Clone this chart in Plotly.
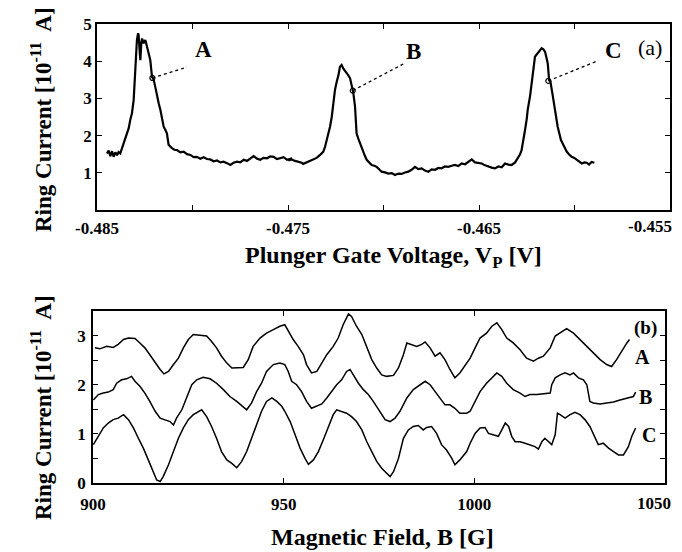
import plotly.graph_objects as go

# ---------------- Panel (a): ring current vs plunger gate voltage ----------------
vp = [-0.48448, -0.48439, -0.48430, -0.48421, -0.48413, -0.48404, -0.48395, -0.48387, -0.48378,
      -0.48369, -0.48360, -0.48352, -0.48343, -0.48334, -0.48326, -0.48317, -0.48308, -0.48303,
      -0.48299, -0.48294, -0.48291, -0.48285, -0.48282, -0.48277, -0.48273, -0.48268, -0.48264,
      -0.48256, -0.48247, -0.48238, -0.48230, -0.48221, -0.48212, -0.48203, -0.48195, -0.48186,
      -0.48177, -0.48168, -0.48160, -0.48151, -0.48142, -0.48134, -0.48125, -0.48116, -0.48107,
      -0.48095, -0.48081, -0.48064, -0.48046, -0.48029, -0.48011, -0.47994, -0.47977, -0.47959,
      -0.47942, -0.47924, -0.47907, -0.47889, -0.47872, -0.47854, -0.47837, -0.47819, -0.47802,
      -0.47785, -0.47767, -0.47750, -0.47732, -0.47715, -0.47697, -0.47680, -0.47662, -0.47645,
      -0.47628, -0.47610, -0.47593, -0.47575, -0.47558, -0.47540, -0.47523, -0.47505, -0.47479,
      -0.47498, -0.47481, -0.47463, -0.47446, -0.47428, -0.47420, -0.47402, -0.47385, -0.47367,
      -0.47350, -0.47332, -0.47315, -0.47306, -0.47297, -0.47289, -0.47280, -0.47271, -0.47263,
      -0.47254, -0.47245, -0.47236, -0.47228, -0.47219, -0.47210, -0.47202, -0.47193, -0.47184,
      -0.47175, -0.47167, -0.47158, -0.47149, -0.47141, -0.47132, -0.47123, -0.47115, -0.47106,
      -0.47097, -0.47088, -0.47076, -0.47062, -0.47048, -0.47036, -0.47024, -0.47010, -0.46992,
      -0.46975, -0.46957, -0.46940, -0.46922, -0.46905, -0.46888, -0.46870, -0.46853, -0.46835,
      -0.46818, -0.46800, -0.46783, -0.46765, -0.46748, -0.46730, -0.46713, -0.46696, -0.46678,
      -0.46661, -0.46643, -0.46626, -0.46608, -0.46591, -0.46573, -0.46556, -0.46538, -0.46521,
      -0.46503, -0.46486, -0.46468, -0.46451, -0.46434, -0.46416, -0.46399, -0.46381, -0.46364,
      -0.46346, -0.46329, -0.46311, -0.46303, -0.46294, -0.46285, -0.46277, -0.46268, -0.46259,
      -0.46250, -0.46245, -0.46233, -0.46224, -0.46215, -0.46207, -0.46198, -0.46189, -0.46181,
      -0.46172, -0.46163, -0.46154, -0.46147, -0.46140, -0.46133, -0.46126, -0.46116, -0.46109,
      -0.46102, -0.46095, -0.46088, -0.46079, -0.46071, -0.46058, -0.46050, -0.46041, -0.46029,
      -0.46015, -0.46001, -0.45989, -0.45976, -0.45962, -0.45948, -0.45936, -0.45924, -0.45910,
      -0.45896]
ring_a = [1.52, 1.60, 1.45, 1.58, 1.43, 1.55, 1.47, 1.56, 1.52,
          1.66, 1.79, 1.88, 2.06, 2.20, 2.42, 2.60, 2.96, 3.40,
          3.76, 4.20, 4.57, 4.75, 4.70, 4.30, 4.03, 4.50, 4.61,
          4.48, 4.57, 4.39, 4.21, 4.03, 3.58, 3.50, 3.31, 3.05,
          2.87, 2.69, 2.42, 2.24, 2.15, 2.06, 1.75, 1.70, 1.66,
          1.62, 1.61, 1.55, 1.57, 1.50, 1.48, 1.42, 1.43, 1.38,
          1.42, 1.37, 1.36, 1.31, 1.33, 1.28, 1.30, 1.26, 1.21,
          1.27, 1.30, 1.28, 1.35, 1.32, 1.39, 1.45, 1.38, 1.35,
          1.40, 1.39, 1.44, 1.43, 1.37, 1.39, 1.42, 1.35, 1.39,
          1.33, 1.36, 1.32, 1.30, 1.27, 1.24, 1.28, 1.31, 1.36,
          1.40, 1.48, 1.57, 1.70, 1.88, 2.05, 2.24, 2.50, 2.87,
          3.23, 3.45, 3.62, 3.85, 3.90, 3.80, 3.75, 3.67, 3.62,
          3.54, 3.38, 3.15, 2.78, 2.06, 1.92, 1.79, 1.65, 1.52,
          1.45, 1.35, 1.28, 1.21, 1.19, 1.16, 1.10, 1.03, 1.01,
          0.98, 0.99, 0.94, 0.98, 0.97, 1.01, 1.03, 1.08, 1.16,
          1.10, 1.12, 1.06, 1.03, 1.09, 1.08, 1.13, 1.12, 1.17,
          1.16, 1.19, 1.21, 1.18, 1.25, 1.23, 1.30, 1.36, 1.28,
          1.27, 1.25, 1.20, 1.16, 1.14, 1.12, 1.17, 1.15, 1.25,
          1.22, 1.21, 1.28, 1.35, 1.42, 1.50, 1.61, 1.85, 2.15,
          2.45, 2.69, 3.05, 3.45, 3.76, 4.12, 4.18, 4.25, 4.30,
          4.35, 4.32, 4.25, 4.10, 3.94, 3.50, 3.45, 3.14, 2.90,
          2.60, 2.42, 2.24, 2.05, 1.88, 1.75, 1.65, 1.57, 1.50,
          1.43, 1.40, 1.35, 1.32, 1.25, 1.28, 1.27, 1.22, 1.29,
          1.27]

# points A, B, C on the peaks, leader line ends and label positions
pt_names = ["A", "B", "C"]
pt_vp = [-0.48210, -0.47161, -0.46137]
pt_i = [3.55, 3.21, 3.47]
lead_vp = [-0.48029, -0.46887, -0.45884]
lead_i = [3.84, 3.95, 4.00]
lab_vp = [-0.47945, -0.46845, -0.45798]
lab_i = [4.32, 4.26, 4.30]

xa_ticks = [-0.485, -0.475, -0.465]
xa_text = ["-0.485", "-0.475", "-0.465"]
xa_last_val = -0.455
xa_last_text = "-0.455"
ya_ticks = [1, 2, 3, 4, 5]
ya_text = ["1", "2", "3", "4", "5"]

# ---------------- Panel (b): ring current vs magnetic field ----------------
field_a = [900.5, 901.8, 903.6, 905.3, 906.6, 908.0, 909.3, 911.0, 912.3, 913.6, 914.9, 916.3,
           917.6, 918.6, 919.8, 921.1, 922.4, 923.7, 925.0, 926.3, 928.1, 929.8, 931.1, 932.4,
           933.7, 935.1, 936.4, 937.7, 939.4, 940.7, 942.0, 943.8, 945.5, 947.3, 949.0, 950.3,
           951.2, 952.5, 953.8, 955.2, 956.0, 957.3, 958.7, 960.0, 961.3, 963.0, 964.3, 965.6,
           967.0, 967.8, 969.1, 970.5, 971.8, 973.1, 974.4, 975.7, 977.0, 978.8, 980.1, 981.4,
           982.3, 983.6, 984.9, 986.2, 987.1, 988.4, 989.7, 991.0, 992.3, 993.6, 994.9, 996.2,
           998.0, 998.9, 1000.2, 1001.5, 1003.2, 1004.6, 1005.9, 1007.2, 1008.5, 1010.2, 1012.0,
           1013.7, 1015.5, 1016.8, 1018.1, 1019.9, 1021.2, 1022.5, 1024.2, 1026.0, 1027.7,
           1029.5, 1031.2, 1033.0, 1034.7, 1036.0, 1037.3, 1038.6, 1040.0, 1040.7]
curve_a = [2.75, 2.73, 2.78, 2.76, 2.82, 2.92, 2.95, 2.94, 2.85, 2.75, 2.61, 2.44,
           2.31, 2.22, 2.27, 2.41, 2.54, 2.75, 2.92, 3.02, 3.01, 2.99, 2.88, 2.75,
           2.58, 2.44, 2.34, 2.34, 2.35, 2.51, 2.78, 2.95, 3.05, 3.12, 3.19, 3.22,
           3.09, 2.92, 2.78, 2.61, 2.41, 2.24, 2.27, 2.44, 2.61, 2.78, 2.95, 3.22,
           3.44, 3.39, 3.19, 3.02, 2.75, 2.51, 2.34, 2.20, 2.17, 2.19, 2.34, 2.61,
           2.85, 2.82, 2.78, 2.82, 2.87, 2.75, 2.58, 2.65, 2.51, 2.31, 2.14, 2.24,
           2.44, 2.54, 2.75, 2.95, 3.05, 3.19, 3.26, 3.12, 2.95, 2.85, 2.71,
           2.54, 2.48, 2.54, 2.58, 2.75, 2.99, 3.05, 3.14, 3.05, 2.92,
           2.78, 2.65, 2.51, 2.41, 2.37, 2.51, 2.68, 2.85, 2.92]

field_b = [900.1, 901.4, 902.7, 904.0, 905.3, 906.2, 907.5, 908.8, 910.1, 911.0, 912.3, 913.6,
           914.9, 916.3, 917.6, 918.9, 920.2, 921.1, 921.9, 923.3, 924.6, 925.9, 927.2, 928.9,
           930.7, 932.4, 934.2, 935.9, 937.7, 939.4, 940.3, 941.6, 942.9, 944.2, 945.5, 947.3,
           949.0, 950.3, 951.2, 952.1, 953.4, 954.7, 956.0, 957.3, 958.7, 960.0, 961.3, 962.6,
           963.9, 965.2, 966.5, 967.4, 968.3, 969.6, 970.9, 972.2, 973.5, 975.3, 976.6, 977.9,
           979.2, 980.5, 982.3, 984.0, 985.8, 987.1, 988.4, 989.7, 991.0, 992.3, 993.6, 994.9,
           996.2, 998.0, 998.9, 1000.2, 1001.5, 1003.2, 1004.6, 1005.9, 1007.2, 1008.5, 1010.2,
           1012.0, 1013.3, 1014.6, 1016.4, 1018.1, 1019.9, 1020.3, 1021.2, 1022.5, 1023.8,
           1025.1, 1026.0, 1027.3, 1028.6, 1029.5, 1030.3, 1031.2, 1033.0, 1034.7, 1036.5,
           1038.2, 1040.0, 1041.7, 1042.3]
curve_b = [1.69, 1.80, 1.83, 1.85, 1.90, 2.03, 2.10, 2.12, 2.17, 2.07, 1.97, 1.83,
           1.66, 1.46, 1.32, 1.29, 1.25, 1.18, 1.32, 1.49, 1.73, 2.00, 2.10, 2.15,
           2.12, 2.03, 1.90, 1.76, 1.66, 1.56, 1.49, 1.63, 1.86, 2.03, 2.27, 2.41,
           2.44, 2.41, 2.27, 2.07, 2.00, 1.86, 1.66, 1.52, 1.56, 1.61, 1.73, 1.86,
           2.00, 2.10, 2.27, 2.31, 2.20, 2.03, 1.90, 1.80, 1.66, 1.46, 1.29, 1.25,
           1.32, 1.46, 1.73, 1.90, 2.00, 2.07, 2.00, 1.86, 1.73, 1.59, 1.59, 1.52,
           1.42, 1.42, 1.46, 1.66, 1.86, 2.03, 2.14, 2.24, 2.17, 2.03, 1.90,
           1.83, 1.76, 1.80, 1.80, 1.81, 1.83, 2.00, 2.14, 2.20, 2.24,
           2.20, 2.24, 2.14, 2.10, 2.00, 1.66, 1.63, 1.61, 1.63, 1.65,
           1.69, 1.73, 1.76, 1.85]

field_c = [900.1, 901.4, 902.7, 904.0, 905.3, 906.6, 908.0, 909.3, 910.6, 911.9, 913.2, 914.5,
           915.8, 916.7, 917.6, 918.4, 919.8, 921.1, 922.4, 923.7, 925.0, 926.3, 927.6, 928.5,
           929.8, 931.1, 932.4, 933.7, 935.1, 936.4, 937.7, 939.0, 940.3, 941.6, 942.9, 944.2,
           945.5, 946.9, 948.2, 949.5, 950.3, 951.7, 953.0, 954.3, 955.6, 956.5, 957.8, 959.1,
           960.4, 961.7, 963.0, 963.9, 965.2, 966.5, 967.8, 969.1, 970.5, 971.8, 973.1, 974.4,
           975.7, 977.0, 977.9, 978.8, 980.1, 981.4, 982.7, 984.0, 985.3, 986.6, 987.5, 988.8,
           990.1, 991.4, 992.7, 994.1, 994.9, 996.2, 998.0, 998.9, 1000.2, 1001.5, 1002.8,
           1003.7, 1005.0, 1006.3, 1007.2, 1008.1, 1009.0, 1009.8, 1010.7, 1012.0, 1013.3,
           1014.6, 1015.9, 1016.8, 1017.7, 1018.5, 1019.4, 1020.3, 1021.2, 1021.8, 1022.5,
           1023.8, 1025.1, 1026.4, 1027.7, 1029.0, 1030.3, 1031.7, 1032.5, 1033.8, 1035.2,
           1036.5, 1037.8, 1039.1, 1040.4, 1041.3, 1042.3]
curve_c = [0.78, 0.95, 1.12, 1.22, 1.29, 1.32, 1.39, 1.29, 1.12, 0.91, 0.71, 0.47,
           0.23, 0.06, 0.03, 0.13, 0.37, 0.64, 0.91, 1.12, 1.29, 1.39, 1.46, 1.49,
           1.35, 1.15, 0.91, 0.64, 0.47, 0.40, 0.31, 0.44, 0.64, 0.91, 1.18, 1.46,
           1.66, 1.73, 1.66, 1.56, 1.46, 1.25, 0.98, 0.71, 0.50, 0.38, 0.47, 0.64,
           0.88, 1.12, 1.39, 1.49, 1.46, 1.42, 1.35, 1.25, 1.08, 0.84, 0.64, 0.44,
           0.30, 0.20, 0.13, 0.23, 0.50, 0.91, 1.08, 1.15, 1.17, 1.08, 1.13, 1.15,
           1.01, 0.78, 0.67, 0.50, 0.37, 0.47, 0.64, 0.81, 1.01, 1.12, 1.13,
           1.01, 0.98, 0.95, 1.08, 1.22, 1.15, 0.95, 0.84, 0.84, 0.81,
           0.78, 0.74, 0.69, 0.84, 0.91, 0.84, 0.78, 0.98, 1.42, 1.39,
           1.32, 1.39, 1.44, 1.39, 1.29, 1.15, 0.91, 0.78, 0.81, 0.71,
           0.64, 0.57, 0.57, 0.74, 0.95, 1.12]

curve_names = ["A", "B", "C"]
curve_lab_x = [1044.2, 1044.8, 1045.8]
curve_lab_y = [2.56, 1.76, 0.98]

xb_ticks = [900, 950, 1000]
xb_text = ["900", "950", "1000"]
xb_last_val = 1050
xb_last_text = "1050"
yb_ticks = [0, 1, 2, 3]
yb_text = ["0", "1", "2", "3"]

# ---------------- Figure ----------------
SERIF = "Liberation Serif"
fig = go.Figure()

fig.add_trace(go.Scatter(x=vp, y=ring_a, mode="lines", line=dict(color="black", width=2.2),
                         xaxis="x", yaxis="y", showlegend=False, hoverinfo="skip"))
for k in range(3):
    fig.add_trace(go.Scatter(x=[pt_vp[k], lead_vp[k]], y=[pt_i[k], lead_i[k]], mode="lines",
                             line=dict(color="black", width=1.3, dash="dot"),
                             xaxis="x", yaxis="y", showlegend=False, hoverinfo="skip"))
fig.add_trace(go.Scatter(x=pt_vp, y=pt_i, mode="markers",
                         marker=dict(symbol="circle-open", size=5, color="black", line=dict(width=1.2)),
                         xaxis="x", yaxis="y", showlegend=False, hoverinfo="skip"))

for xs, ys in [(field_a, curve_a), (field_b, curve_b), (field_c, curve_c)]:
    fig.add_trace(go.Scatter(x=xs, y=ys, mode="lines", line=dict(color="black", width=1.5),
                             xaxis="x2", yaxis="y2", showlegend=False, hoverinfo="skip"))

tickfont = dict(family=SERIF, size=17, color="black", weight="bold")
axis_common = dict(showline=True, linecolor="black", linewidth=1.6, mirror="allticks",
                   ticks="inside", ticklen=5, tickwidth=1.3, tickcolor="black",
                   showgrid=False, zeroline=False, tickfont=tickfont, automargin=False)
minor_style = dict(ticks="inside", ticklen=5, tickwidth=1.3, tickcolor="black", showgrid=False)

fig.update_layout(
    width=682, height=552,
    margin=dict(l=0, r=0, t=0, b=0, autoexpand=False),
    paper_bgcolor="white", plot_bgcolor="white",
    xaxis=dict(domain=[97/682, 670/682], range=[-0.485, -0.455], anchor="y",
               tickmode="array", tickvals=xa_ticks, ticktext=xa_text, ticklabelstandoff=2,
               minor=dict(dtick=0.005, tick0=-0.485, **minor_style), **axis_common),
    yaxis=dict(domain=[1 - 210/552, 1 - 24/552], range=[0, 5], anchor="x",
               tickmode="array", tickvals=ya_ticks, ticktext=ya_text, ticklabelstandoff=0,
               **axis_common),
    xaxis2=dict(domain=[93/682, 665/682], range=[900, 1050], anchor="y2",
                tickmode="array", tickvals=xb_ticks, ticktext=xb_text, ticklabelstandoff=5,
                **axis_common),
    yaxis2=dict(domain=[1 - 483/552, 1 - 311/552], range=[0, 3.5], anchor="x2",
                tickmode="array", tickvals=yb_ticks, ticktext=yb_text, ticklabelstandoff=2,
                minor=dict(dtick=0.5, tick0=0, **minor_style), **axis_common),
)

lab_font = dict(family=SERIF, size=23, color="black", weight="bold")
title_font = dict(family=SERIF, size=24, color="black", weight="bold")
ytitle_font = dict(family=SERIF, size=23, color="black", weight="bold")
ann = []
for k in range(3):
    ann.append(dict(x=lab_vp[k], y=lab_i[k], xref="x", yref="y", text=pt_names[k],
                    showarrow=False, font=lab_font, xanchor="center", yanchor="middle"))
ann.append(dict(x=-0.45605, y=4.38, xref="x", yref="y", text="(a)", showarrow=False,
                xanchor="center", yanchor="middle",
                font=dict(family=SERIF, size=22, color="black")))
for k in range(3):
    ann.append(dict(x=curve_lab_x[k], y=curve_lab_y[k], xref="x2", yref="y2", text=curve_names[k],
                    showarrow=False, xanchor="center", yanchor="middle",
                    font=dict(family=SERIF, size=20, color="black", weight="bold")))
ann.append(dict(x=1045.0, y=3.16, xref="x2", yref="y2", text="(b)", showarrow=False,
                xanchor="center", yanchor="middle",
                font=dict(family=SERIF, size=19, color="black", weight="bold")))

# last tick labels of each x axis, pulled inside the picture as in the original
ann.append(dict(x=xa_last_val, y=1 - 227/552, xref="x", yref="paper", text=xa_last_text,
                showarrow=False, xanchor="right", yanchor="middle", xshift=4, font=tickfont))
ann.append(dict(x=xb_last_val, y=1 - 503/552, xref="x2", yref="paper", text=xb_last_text,
                showarrow=False, xanchor="right", yanchor="middle", xshift=8, font=tickfont))

ann.append(dict(x=393/682, y=1 - 257/552, xref="paper", yref="paper", xanchor="center", yanchor="middle",
                text="Plunger Gate Voltage, V<sub>P</sub> [V]", showarrow=False, font=title_font))
ann.append(dict(x=383/682, y=1 - 537/552, xref="paper", yref="paper", xanchor="center", yanchor="middle",
                text="Magnetic Field, B [G]", showarrow=False, font=title_font))
ann.append(dict(x=42/682, y=1 - 120/552, xref="paper", yref="paper", textangle=-90,
                xanchor="center", yanchor="middle",
                text="Ring Current [10<sup>-11</sup>  A]", showarrow=False, font=ytitle_font))
ann.append(dict(x=41/682, y=1 - 408/552, xref="paper", yref="paper", textangle=-90,
                xanchor="center", yanchor="middle",
                text="Ring Current [10<sup>-11</sup>  A]", showarrow=False, font=ytitle_font))
fig.update_layout(annotations=ann)

fig.write_html("out.html")
